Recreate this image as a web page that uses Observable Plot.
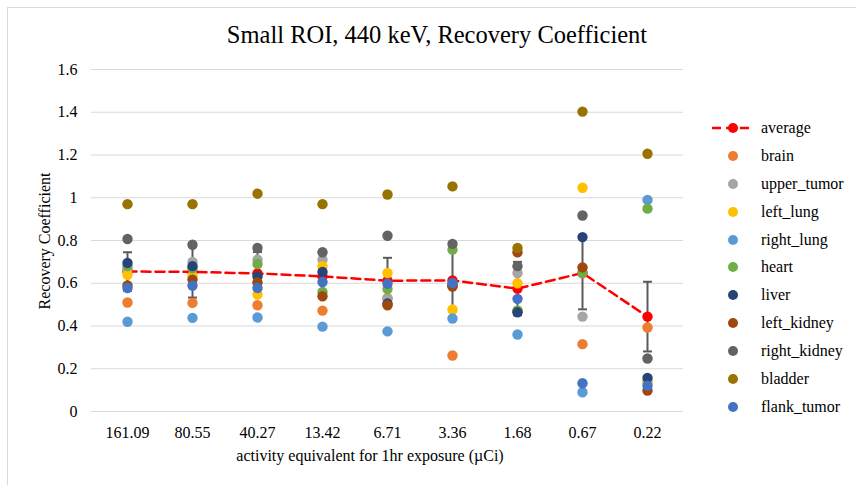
<!DOCTYPE html>
<html><head><meta charset="utf-8">
<script src="https://cdn.jsdelivr.net/npm/d3@7"></script>
<script src="https://cdn.jsdelivr.net/npm/@observablehq/plot@0.6"></script>
<style>
body{margin:0;background:#fff;font-family:"Liberation Serif","Times New Roman",serif;color:#000;}
#wrap{position:relative;width:856px;height:485px;overflow:hidden;}
#frame{position:absolute;left:7px;top:7px;width:900px;height:520px;border-top:1px solid #d9d9d9;border-left:1px solid #d9d9d9;}
#chart{position:absolute;left:0;top:0;}
#title{position:absolute;left:0;width:874px;top:20px;line-height:30px;text-align:center;font-size:24.5px;}
#ylab{position:absolute;left:45px;top:241px;font-size:16px;white-space:nowrap;transform:translate(-50%,-50%) rotate(-90deg);}
#xlab{position:absolute;left:370px;top:456px;font-size:16px;white-space:nowrap;transform:translate(-50%,-50%);}
#legend{position:absolute;left:705px;top:114px;font-size:16px;}
.row{height:27.9px;display:flex;align-items:center;}
.row svg{width:56px;height:20px;}
</style></head><body>
<div id="wrap">
<div id="frame"></div>
<div id="chart"></div>
<div id="title">Small ROI, 440 keV, Recovery Coefficient</div>
<div id="ylab">Recovery Coefficient</div>
<div id="xlab">activity equivalent for 1hr exposure (µCi)</div>
<div id="legend"></div>
</div>
<script>
const categories = ["161.09","80.55","40.27","13.42","6.71","3.36","1.68","0.67","0.22"];
const yTicks = [0,0.2,0.4,0.6,0.8,1,1.2,1.4,1.6];

const average  = [0.655,0.653,0.646,0.632,0.612,0.613,0.575,0.648,0.444];
const avgError = [0.09,0.12,0.10,0.08,0.107,0.145,0.125,0.17,0.163];

const brain        = [0.51,0.508,0.497,0.472,0.53,0.262,0.47,0.315,0.393];
const upper_tumor  = [0.665,0.70,0.71,0.71,0.528,0.59,0.648,0.444,0.138];
const left_lung    = [0.64,0.635,0.547,0.68,0.648,0.477,0.60,1.047,0.14];
const right_lung   = [0.42,0.438,0.44,0.397,0.375,0.435,0.36,0.09,0.99];
const heart        = [0.68,0.67,0.69,0.559,0.573,0.757,0.473,0.648,0.949];
const liver        = [0.695,0.68,0.632,0.653,0.505,0.59,0.464,0.816,0.157];
const left_kidney  = [0.59,0.617,0.604,0.539,0.497,0.585,0.745,0.674,0.098];
const right_kidney = [0.807,0.78,0.765,0.745,0.822,0.784,0.68,0.917,0.248];
const bladder      = [0.97,0.97,1.019,0.97,1.015,1.053,0.765,1.403,1.206];
const flank_tumor  = [0.578,0.589,0.578,0.606,0.598,0.601,0.527,0.132,0.121];

const seriesNames = ["brain","upper_tumor","left_lung","right_lung","heart","liver","left_kidney","right_kidney","bladder","flank_tumor"];
const seriesValues = [brain,upper_tumor,left_lung,right_lung,heart,liver,left_kidney,right_kidney,bladder,flank_tumor];
const seriesColors = ["#ED7D31","#A5A5A5","#FFC000","#5B9BD5","#70AD47","#264478","#9E480E","#636363","#997300","#4472C4"];
const avgColor = "#FF0000";
const errColor = "#5a5a5a";

const avgRows = categories.map((c,i)=>({cat:c, v:average[i], lo:average[i]-avgError[i], hi:average[i]+avgError[i]}));
const pts = [];
seriesNames.forEach((s,k)=>seriesValues[k].forEach((v,i)=>pts.push({cat:categories[i], series:s, v})));

// horizontal cap symbol for error bars
const capSymbol = {draw(ctx, size){ const w = Math.sqrt(size/Math.PI); ctx.moveTo(-w,0); ctx.lineTo(w,0); }};

const font = '"Liberation Serif","Times New Roman",serif';
const chart = Plot.plot({
  width:856, height:485,
  marginLeft:91, marginRight:173, marginTop:69, marginBottom:74,
  style:{fontFamily:font, fontSize:"16px", color:"#000", background:"transparent", overflow:"visible"},
  x:{type:"point", domain:categories, padding:0.5},
  y:{domain:[0,1.6]},
  color:{domain:seriesNames, range:seriesColors},
  marks:[
    Plot.gridY(yTicks,{stroke:"#d9d9d9", strokeOpacity:1, strokeWidth:1.2}),
    Plot.axisY(yTicks,{tickSize:0, tickPadding:14, fontSize:16, label:null, tickFormat:d=>String(+d.toFixed(1))}),
    Plot.axisX({tickSize:0, tickPadding:15, fontSize:16, label:null}),
    Plot.ruleX(avgRows,{x:"cat", y1:"lo", y2:"hi", stroke:errColor, strokeWidth:2}),
    Plot.dot(avgRows,{x:"cat", y:"lo", symbol:capSymbol, r:4.5, stroke:errColor, strokeWidth:2, fill:"none"}),
    Plot.dot(avgRows,{x:"cat", y:"hi", symbol:capSymbol, r:4.5, stroke:errColor, strokeWidth:2, fill:"none"}),
    Plot.line(avgRows,{x:"cat", y:"v", stroke:avgColor, strokeWidth:2.5, strokeDasharray:"9,5"}),
    Plot.dot(avgRows,{x:"cat", y:"v", r:5.2, fill:avgColor}),
    Plot.dot(pts,{x:"cat", y:"v", r:5.2, fill:"series"})
  ]
});
document.getElementById("chart").appendChild(chart);

const legend = document.getElementById("legend");
const addRow = (name, sym) => {
  const row = document.createElement("div"); row.className = "row";
  row.innerHTML = `<svg viewBox="0 0 56 20">${sym}</svg><span>${name}</span>`;
  legend.appendChild(row);
};
addRow("average", `<line x1="6" x2="48" y1="10" y2="10" stroke="${avgColor}" stroke-width="2.5" stroke-dasharray="9,5" stroke-dashoffset="-1"/><circle cx="28" cy="10" r="5" fill="${avgColor}"/>`);
seriesNames.forEach((s,k)=>addRow(s, `<circle cx="28" cy="10" r="5" fill="${seriesColors[k]}"/>`));
</script>
</body></html>
